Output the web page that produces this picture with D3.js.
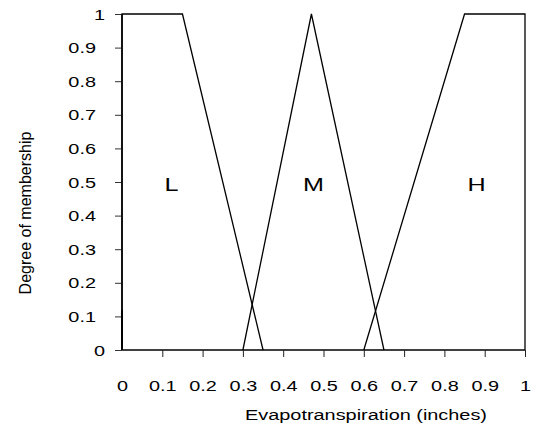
<!DOCTYPE html>
<html>
<head>
<meta charset="utf-8">
<script src="https://cdn.jsdelivr.net/npm/d3@7"></script>
<style>
  html, body { margin: 0; padding: 0; background: #fff; }
  svg { display: block; }
  text { font-family: "Liberation Sans", Arial, sans-serif; fill: #000; }
</style>
</head>
<body>
<svg id="chart" width="534" height="433"></svg>
<script>
// ---- data ----
const xTicks = [0, 0.1, 0.2, 0.3, 0.4, 0.5, 0.6, 0.7, 0.8, 0.9, 1];
const xTickLabels = ["0", "0.1", "0.2", "0.3", "0.4", "0.5", "0.6", "0.7", "0.8", "0.9", "1"];
const yTicks = [0, 0.1, 0.2, 0.3, 0.4, 0.5, 0.6, 0.7, 0.8, 0.9, 1];
const yTickLabels = ["0", "0.1", "0.2", "0.3", "0.4", "0.5", "0.6", "0.7", "0.8", "0.9", "1"];
const setNames = ["L", "M", "H"];
const setLabelX = [0.123, 0.475, 0.88];
const setLabelY = [0.5, 0.5, 0.5];
const seriesL = [[0, 0.12], [0, 1], [0.15, 1], [0.35, 0]];
const seriesM = [[0.3, 0], [0.47, 1], [0.65, 0]];
const seriesH = [[0.6, 0], [0.85, 1], [1, 1], [1, 0]];
const xTitle = "Evapotranspiration (inches)";
const yTitle = "Degree of membership";

// ---- layout ----
const svg = d3.select("#chart");
const SX = 1.42; // horizontal stretch of the text
const x = d3.scaleLinear().domain([0, 1]).range([122, 525]);
const y = d3.scaleLinear().domain([0, 1]).range([350, 14]);

// x axis
const xAxis = d3.axisBottom(x)
  .tickValues(xTicks)
  .tickSize(7)
  .tickPadding(24)
  .tickFormat((d, i) => xTickLabels[i]);
const gx = svg.append("g").attr("transform", `translate(0,${y(0)})`).call(xAxis);
gx.select(".domain").attr("stroke", "#000").attr("stroke-width", 1.6).attr("d", `M${x(0)},0H${x(1)}`);
gx.selectAll(".tick line").attr("stroke", "#222").attr("stroke-width", 1)
  .filter(d => d === 0).remove();
gx.selectAll(".tick text")
  .attr("font-size", 14)
  .attr("font-family", "Liberation Sans, Arial, sans-serif")
  .attr("transform", `scale(${SX},1)`);

// y axis
const yAxis = d3.axisLeft(y)
  .tickValues(yTicks)
  .tickSize(7)
  .tickFormat((d, i) => yTickLabels[i]);
const gy = svg.append("g").attr("transform", `translate(${x(0)},0)`).call(yAxis);
gy.select(".domain").attr("stroke", "#3a3a3a").attr("stroke-width", 2).attr("d", `M0,${y(0)}V${y(1)}`);
gy.selectAll(".tick line").attr("stroke", "#333").attr("stroke-width", 1);
gy.selectAll(".tick text")
  .attr("font-size", 14)
  .attr("font-family", "Liberation Sans, Arial, sans-serif")
  .attr("x", (d, i) => (yTickLabels[i].includes(".") ? -26 : -17) / SX)
  .attr("dy", "0.36em")
  .attr("transform", `scale(${SX},1)`);

// membership functions
const line = d3.line().x(d => x(d[0])).y(d => y(d[1]));
[seriesL, seriesM, seriesH].forEach((s) => {
  svg.append("path")
    .datum(s)
    .attr("d", line)
    .attr("fill", "none")
    .attr("stroke", "#000")
    .attr("stroke-width", 1.3)
    .attr("stroke-linejoin", "miter");
});
// darker start of L on the axis
svg.append("path")
  .datum([[0, 0], [0, seriesL[0][1]]])
  .attr("d", line)
  .attr("stroke", "#000")
  .attr("stroke-width", 2);

// set labels
setNames.forEach((n, i) => {
  svg.append("text")
    .attr("transform", `translate(${x(setLabelX[i])},${y(setLabelY[i])}) scale(1.4,1)`)
    .attr("text-anchor", "middle")
    .attr("dy", "0.5em")
    .attr("font-size", 18)
    .text(n);
});

// axis titles
svg.append("text")
  .attr("transform", `translate(366,420) scale(${SX},1)`)
  .attr("text-anchor", "middle")
  .attr("font-size", 14)
  .text(xTitle);
svg.append("text")
  .attr("transform", `translate(31,213) rotate(-90)`)
  .attr("text-anchor", "middle")
  .attr("font-size", 16)
  .text(yTitle);
</script>
</body>
</html>
